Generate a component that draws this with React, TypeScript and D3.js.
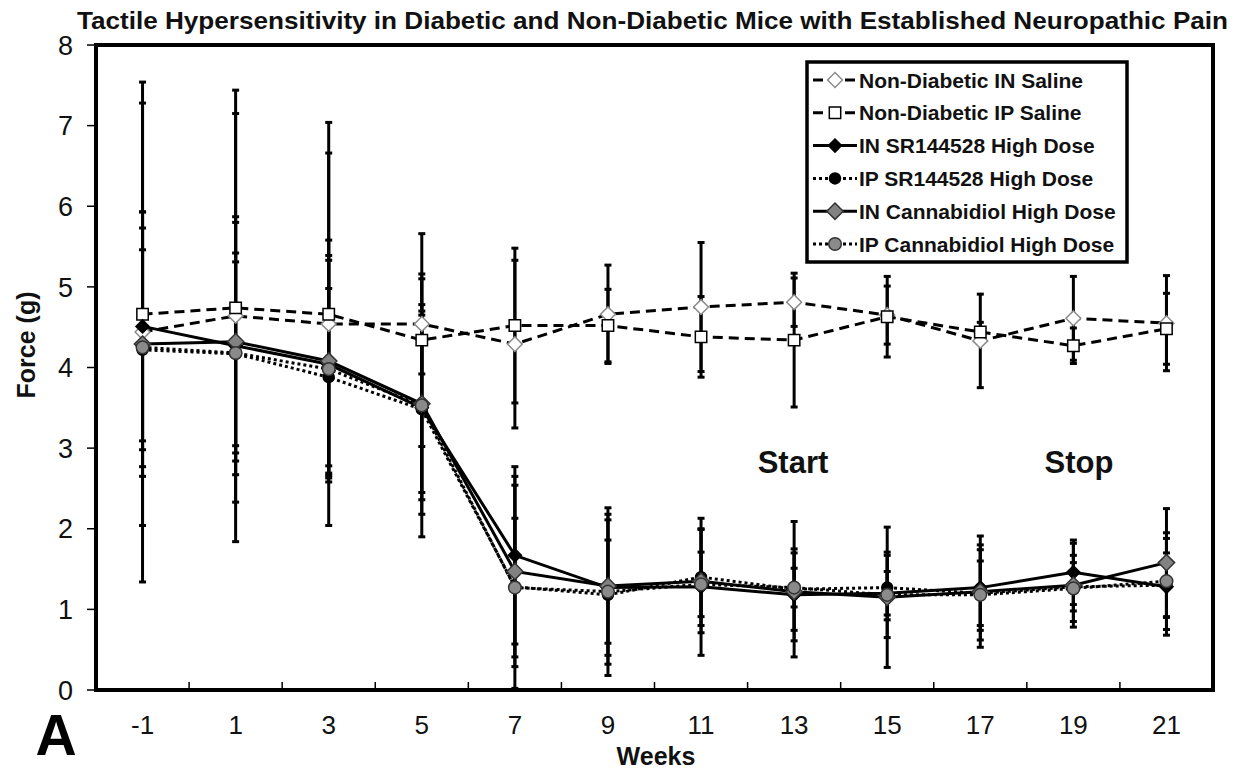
import * as d3 from "d3";

const weeks = ["-1", "1", "3", "5", "7", "9", "11", "13", "15", "17", "19", "21"];
const yTicks = [0, 1, 2, 3, 4, 5, 6, 7, 8];

const ndInSaline = [4.44, 4.64, 4.54, 4.54, 4.29, 4.66, 4.75, 4.81, 4.65, 4.33, 4.61, 4.55];
const ndInSalineErr = [3.1, 2.8, 2.5, 0.62, 1.04, 0.61, 0.8, 0.3, 0.36, 0.58, 0.52, 0.59];
const ndIpSaline = [4.66, 4.74, 4.66, 4.34, 4.52, 4.52, 4.38, 4.34, 4.63, 4.44, 4.27, 4.48];
const ndIpSalineErr = [2.62, 2.41, 2.0, 1.32, 0.96, 0.45, 0.5, 0.83, 0.5, 0.12, 0.22, 0.44];
const inSr = [4.51, 4.27, 4.04, 3.5, 1.67, 1.27, 1.28, 1.18, 1.2, 1.27, 1.46, 1.28];
const inSrErr = [1.42, 1.6, 1.35, 1.6, 1.1, 0.84, 0.85, 0.57, 0.27, 0.53, 0.4, 0.6];
const ipSr = [4.22, 4.17, 3.88, 3.48, 1.28, 1.18, 1.4, 1.25, 1.27, 1.2, 1.28, 1.3];
const ipSrErr = [1.24, 1.14, 1.1, 1.3, 1.26, 1.0, 0.6, 0.84, 0.4, 0.4, 0.3, 0.4];
const inCbd = [4.29, 4.32, 4.08, 3.55, 1.47, 1.29, 1.35, 1.22, 1.15, 1.22, 1.3, 1.58];
const inCbdErr = [1.64, 1.48, 1.5, 1.1, 1.18, 0.97, 0.64, 0.48, 0.87, 0.69, 0.52, 0.67];
const ipCbd = [4.25, 4.18, 3.98, 3.53, 1.27, 1.22, 1.31, 1.27, 1.18, 1.18, 1.26, 1.35];
const ipCbdErr = [1.48, 1.24, 1.35, 1.17, 0.86, 0.64, 0.4, 0.24, 0.53, 0.56, 0.41, 0.6];

type Series = {
  name: string;
  values: number[];
  errs: number[];
  dash: string | undefined;
  shape: "diamond" | "square" | "circle";
  size: number;
  fill: string;
  stroke: string;
};

const series: Series[] = [
  { name: "Non-Diabetic IN Saline", values: ndInSaline, errs: ndInSalineErr, dash: "10,6", shape: "diamond", size: 140, fill: "#ffffff", stroke: "#8c8c8c" },
  { name: "Non-Diabetic IP Saline", values: ndIpSaline, errs: ndIpSalineErr, dash: "10,6", shape: "square", size: 130, fill: "#ffffff", stroke: "#000000" },
  { name: "IN SR144528 High Dose", values: inSr, errs: inSrErr, dash: undefined, shape: "diamond", size: 110, fill: "#000000", stroke: "#000000" },
  { name: "IP SR144528 High Dose", values: ipSr, errs: ipSrErr, dash: "3,3", shape: "circle", size: 95, fill: "#000000", stroke: "#000000" },
  { name: "IN Cannabidiol High Dose", values: inCbd, errs: inCbdErr, dash: undefined, shape: "diamond", size: 170, fill: "#828282", stroke: "#333333" },
  { name: "IP Cannabidiol High Dose", values: ipCbd, errs: ipCbdErr, dash: "3,3", shape: "circle", size: 125, fill: "#8a8a8a", stroke: "#333333" },
];

const FONT = "'Liberation Sans', Arial, sans-serif";

const symbolType = (s: Series["shape"]) =>
  s === "diamond" ? d3.symbolDiamond2 : s === "square" ? d3.symbolSquare : d3.symbolCircle;

function Marker({ s, cx, cy }: { s: Series; cx: number; cy: number }) {
  const path = d3.symbol().type(symbolType(s.shape)).size(s.size)() ?? "";
  return (
    <path
      d={path}
      transform={`translate(${cx},${cy})`}
      fill={s.fill}
      stroke={s.stroke}
      strokeWidth={1.5}
    />
  );
}

export default function App() {
  const width = 1244;
  const height = 770;
  const plotLeft = 96;
  const plotRight = 1213;
  const plotTop = 45;
  const plotBottom = 690;

  const x = d3.scaleBand().domain(weeks).range([plotLeft, plotRight]);
  const y = d3.scaleLinear().domain([0, 8]).range([plotBottom, plotTop]);
  const cx = (w: string) => (x(w) ?? 0) + x.bandwidth() / 2;

  const line = d3
    .line<number>()
    .x((_, i) => cx(weeks[i]))
    .y((d) => y(d));

  const boundaries = weeks.slice(1).map((w) => x(w) ?? 0);

  const legendX = 807;
  const legendY = 62;
  const legendW = 320;
  const legendH = 200;
  const rowY = (i: number) => 80 + i * 32.8;

  return (
    <svg
      width={width}
      height={height}
      style={{ position: "absolute", left: 0, top: 0, background: "#fff" }}
      fontFamily={FONT}
    >
      <rect x={0} y={0} width={width} height={height} fill="#fff" />

      <text
        x={77}
        y={29}
        fontWeight="bold"
        fontSize={24}
        fill="#111"
        textLength={1151}
        lengthAdjust="spacingAndGlyphs"
      >
        Tactile Hypersensitivity in Diabetic and Non-Diabetic Mice with Established Neuropathic Pain
      </text>

      {/* y axis ticks and labels */}
      {yTicks.map((t) => (
        <g key={t}>
          <line x1={plotLeft - 9} x2={plotLeft} y1={y(t)} y2={y(t)} stroke="#000" strokeWidth={1.5} />
          <text x={73} y={y(t)} dy="0.36em" textAnchor="end" fontSize={27} fill="#111">
            {t}
          </text>
        </g>
      ))}

      {/* x axis inner ticks */}
      {boundaries.map((b, i) => (
        <line key={i} x1={b} x2={b} y1={plotBottom} y2={plotBottom - 8} stroke="#000" strokeWidth={1.5} />
      ))}
      {weeks.map((w) => (
        <text key={w} x={cx(w)} y={734} textAnchor="middle" fontSize={26} fill="#111">
          {w}
        </text>
      ))}

      <text
        transform={`translate(35,345) rotate(-90)`}
        textAnchor="middle"
        fontWeight="bold"
        fontSize={25}
        fill="#111"
      >
        Force (g)
      </text>
      <text x={656} y={765} textAnchor="middle" fontWeight="bold" fontSize={25} fill="#111">
        Weeks
      </text>
      <text x={56} y={755} textAnchor="middle" fontWeight="bold" fontSize={57} fill="#000">
        A
      </text>

      <text x={793} y={473} textAnchor="middle" fontWeight="bold" fontSize={31} fill="#111">
        Start
      </text>
      <text x={1079} y={473} textAnchor="middle" fontWeight="bold" fontSize={31} fill="#111">
        Stop
      </text>

      {/* error bars */}
      {series.map((s, si) => (
        <g key={`err-${si}`} stroke="#000" strokeWidth={3}>
          {s.values.map((v, i) => {
            const px = cx(weeks[i]);
            const hi = y(Math.min(8, v + s.errs[i]));
            const lo = y(Math.max(0, v - s.errs[i]));
            return (
              <g key={i}>
                <line x1={px} x2={px} y1={hi} y2={lo} />
                <line x1={px - 3.5} x2={px + 3.5} y1={hi} y2={hi} />
                <line x1={px - 3.5} x2={px + 3.5} y1={lo} y2={lo} />
              </g>
            );
          })}
        </g>
      ))}

      {/* series lines */}
      {series.map((s, si) => (
        <path
          key={`line-${si}`}
          d={line(s.values) ?? ""}
          fill="none"
          stroke="#000"
          strokeWidth={3}
          strokeDasharray={s.dash}
        />
      ))}

      {/* markers */}
      {series.map((s, si) => (
        <g key={`mk-${si}`}>
          {s.values.map((v, i) => (
            <Marker key={i} s={s} cx={cx(weeks[i])} cy={y(v)} />
          ))}
        </g>
      ))}

      {/* plot frame */}
      <rect
        x={plotLeft}
        y={plotTop}
        width={plotRight - plotLeft}
        height={plotBottom - plotTop}
        fill="none"
        stroke="#000"
        strokeWidth={4}
      />

      {/* legend */}
      <rect x={legendX} y={legendY} width={legendW} height={legendH} fill="#fff" stroke="#000" strokeWidth={3.5} />
      {series.map((s, i) => (
        <g key={`lg-${i}`}>
          <line x1={813} x2={857} y1={rowY(i)} y2={rowY(i)} stroke="#000" strokeWidth={3} strokeDasharray={s.dash} />
          <Marker s={s} cx={835} cy={rowY(i)} />
          <text x={859} y={rowY(i)} dy="0.36em" fontWeight="bold" fontSize={21} fill="#111">
            {s.name}
          </text>
        </g>
      ))}
    </svg>
  );
}
